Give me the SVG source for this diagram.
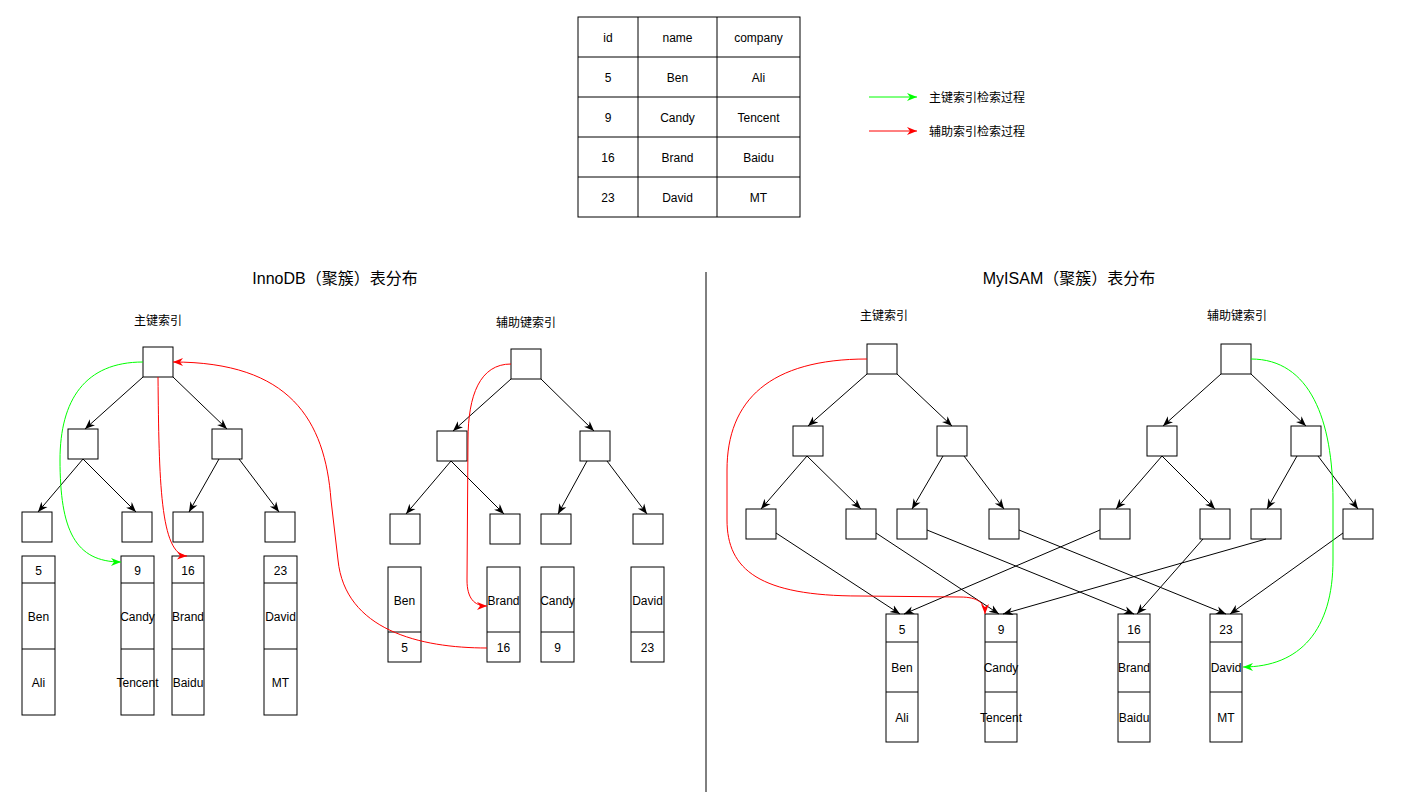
<svg xmlns="http://www.w3.org/2000/svg" width="1402" height="799" viewBox="0 0 1402 799">
<style>
  .box{fill:#fff;stroke:#000;stroke-width:1}
  .t{font-family:"Liberation Sans","Noto Sans CJK SC",sans-serif;font-size:12px;fill:#000;text-anchor:middle;dominant-baseline:central;transform:translateY(1px)}
  .title{font-family:"Liberation Sans","Noto Sans CJK SC",sans-serif;font-size:16px;fill:#000;text-anchor:middle;dominant-baseline:central;transform:translateY(1px)}
  .e{fill:none;stroke:#000;stroke-width:1;marker-end:url(#ak)}
  .g{fill:none;stroke:#00FF00;stroke-width:1;marker-end:url(#ag)}
  .r{fill:none;stroke:#FF0000;stroke-width:1;marker-end:url(#ar)}
</style>
<defs>
  <marker id="ak" viewBox="0 0 10 10" refX="10" refY="5" markerWidth="10" markerHeight="10" markerUnits="userSpaceOnUse" orient="auto"><path d="M0,1 L10,5 L0,9 L3,5 z" fill="#000"/></marker>
  <marker id="ag" viewBox="0 0 10 10" refX="10" refY="5" markerWidth="10" markerHeight="10" markerUnits="userSpaceOnUse" orient="auto"><path d="M0,1 L10,5 L0,9 L3,5 z" fill="#00FF00"/></marker>
  <marker id="ar" viewBox="0 0 10 10" refX="10" refY="5" markerWidth="10" markerHeight="10" markerUnits="userSpaceOnUse" orient="auto"><path d="M0,1 L10,5 L0,9 L3,5 z" fill="#FF0000"/></marker>
</defs>
<rect width="1402" height="799" fill="#fff"/>

<!-- Table -->
<g id="table">
  <rect class="box" x="578" y="17" width="222" height="200"/>
  <path d="M638,17 V217 M717,17 V217 M578,57 H800 M578,97 H800 M578,137 H800 M578,177 H800" stroke="#000" fill="none"/>
  <text class="t" x="608" y="37">id</text><text class="t" x="677.5" y="37">name</text><text class="t" x="758.5" y="37">company</text>
  <text class="t" x="608" y="77">5</text><text class="t" x="677.5" y="77">Ben</text><text class="t" x="758.5" y="77">Ali</text>
  <text class="t" x="608" y="117">9</text><text class="t" x="677.5" y="117">Candy</text><text class="t" x="758.5" y="117">Tencent</text>
  <text class="t" x="608" y="157">16</text><text class="t" x="677.5" y="157">Brand</text><text class="t" x="758.5" y="157">Baidu</text>
  <text class="t" x="608" y="197">23</text><text class="t" x="677.5" y="197">David</text><text class="t" x="758.5" y="197">MT</text>
</g>

<!-- Legend -->
<g id="legend">
  <path class="g" d="M869,97 L917,97"/>
  <text class="t" x="929" y="97" style="text-anchor:start">主键索引检索过程</text>
  <path class="r" d="M869,131 L917,131"/>
  <text class="t" x="929" y="131" style="text-anchor:start">辅助索引检索过程</text>
</g>

<!-- Titles and labels -->
<g id="labels">
  <text class="title" x="335" y="277">InnoDB（聚簇）表分布</text>
  <text class="title" x="1069" y="277">MyISAM（聚簇）表分布</text>
  <text class="t" x="158" y="320">主键索引</text>
  <text class="t" x="526" y="322">辅助键索引</text>
  <text class="t" x="884" y="315">主键索引</text>
  <text class="t" x="1237" y="315">辅助键索引</text>
</g>

<g id="divider"><path d="M706,272 V792" stroke="#000" stroke-width="1"/></g>

<!-- InnoDB primary tree -->
<g id="inno-pk-root"><rect class="box" x="143" y="347" width="30" height="30"/></g>
<g id="inno-pk-l2a"><rect class="box" x="68" y="429" width="30" height="30"/></g>
<g id="inno-pk-l2b"><rect class="box" x="212" y="429" width="30" height="30"/></g>
<g id="inno-pk-leaf1"><rect class="box" x="22" y="512" width="30" height="30"/></g>
<g id="inno-pk-leaf2"><rect class="box" x="122" y="512" width="30" height="30"/></g>
<g id="inno-pk-leaf3"><rect class="box" x="173" y="512" width="30" height="30"/></g>
<g id="inno-pk-leaf4"><rect class="box" x="265" y="512" width="30" height="30"/></g>

<!-- InnoDB primary data -->
<g id="inno-row5">
  <rect class="box" x="22" y="556" width="33" height="159"/>
  <path d="M22,583 H55 M22,649 H55" stroke="#000"/>
  <text class="t" x="38.5" y="570">5</text><text class="t" x="38.5" y="616">Ben</text><text class="t" x="38.5" y="682">Ali</text>
</g>
<g id="inno-row9">
  <rect class="box" x="121" y="556" width="33" height="159"/>
  <path d="M121,583 H154 M121,649 H154" stroke="#000"/>
  <text class="t" x="137.5" y="570">9</text><text class="t" x="137.5" y="616">Candy</text><text class="t" x="137.5" y="682">Tencent</text>
</g>
<g id="inno-row16">
  <rect class="box" x="172" y="556" width="32" height="159"/>
  <path d="M172,583 H204 M172,649 H204" stroke="#000"/>
  <text class="t" x="188" y="570">16</text><text class="t" x="188" y="616">Brand</text><text class="t" x="188" y="682">Baidu</text>
</g>
<g id="inno-row23">
  <rect class="box" x="264" y="556" width="33" height="159"/>
  <path d="M264,583 H297 M264,649 H297" stroke="#000"/>
  <text class="t" x="280.5" y="570">23</text><text class="t" x="280.5" y="616">David</text><text class="t" x="280.5" y="682">MT</text>
</g>

<!-- InnoDB secondary tree -->
<g id="inno-sk-root"><rect class="box" x="511" y="349" width="30" height="30"/></g>
<g id="inno-sk-l2a"><rect class="box" x="437" y="431" width="30" height="30"/></g>
<g id="inno-sk-l2b"><rect class="box" x="580" y="431" width="30" height="30"/></g>
<g id="inno-sk-leaf1"><rect class="box" x="390" y="514" width="30" height="30"/></g>
<g id="inno-sk-leaf2"><rect class="box" x="490" y="514" width="30" height="30"/></g>
<g id="inno-sk-leaf3"><rect class="box" x="541" y="514" width="30" height="30"/></g>
<g id="inno-sk-leaf4"><rect class="box" x="633" y="514" width="30" height="30"/></g>

<g id="inno-sk-ben">
  <rect class="box" x="388" y="567" width="33" height="95"/>
  <path d="M388,632 H421" stroke="#000"/>
  <text class="t" x="404.5" y="600">Ben</text><text class="t" x="404.5" y="647">5</text>
</g>
<g id="inno-sk-brand">
  <rect class="box" x="487" y="567" width="33" height="95"/>
  <path d="M487,632 H520" stroke="#000"/>
  <text class="t" x="503.5" y="600">Brand</text><text class="t" x="503.5" y="647">16</text>
</g>
<g id="inno-sk-candy">
  <rect class="box" x="541" y="567" width="33" height="95"/>
  <path d="M541,632 H574" stroke="#000"/>
  <text class="t" x="557.5" y="600">Candy</text><text class="t" x="557.5" y="647">9</text>
</g>
<g id="inno-sk-david">
  <rect class="box" x="631" y="567" width="33" height="95"/>
  <path d="M631,632 H664" stroke="#000"/>
  <text class="t" x="647.5" y="600">David</text><text class="t" x="647.5" y="647">23</text>
</g>

<!-- MyISAM primary tree -->
<g id="my-pk-root"><rect class="box" x="867" y="344" width="30" height="30"/></g>
<g id="my-pk-l2a"><rect class="box" x="793" y="426" width="30" height="30"/></g>
<g id="my-pk-l2b"><rect class="box" x="937" y="426" width="30" height="30"/></g>
<g id="my-pk-leaf1"><rect class="box" x="746" y="509" width="30" height="30"/></g>
<g id="my-pk-leaf2"><rect class="box" x="846" y="509" width="30" height="30"/></g>
<g id="my-pk-leaf3"><rect class="box" x="897" y="509" width="30" height="30"/></g>
<g id="my-pk-leaf4"><rect class="box" x="989" y="509" width="30" height="30"/></g>

<!-- MyISAM secondary tree -->
<g id="my-sk-root"><rect class="box" x="1221" y="344" width="30" height="30"/></g>
<g id="my-sk-l2a"><rect class="box" x="1147" y="426" width="30" height="30"/></g>
<g id="my-sk-l2b"><rect class="box" x="1291" y="426" width="30" height="30"/></g>
<g id="my-sk-leaf1"><rect class="box" x="1100" y="509" width="30" height="30"/></g>
<g id="my-sk-leaf2"><rect class="box" x="1200" y="509" width="30" height="30"/></g>
<g id="my-sk-leaf3"><rect class="box" x="1251" y="509" width="30" height="30"/></g>
<g id="my-sk-leaf4"><rect class="box" x="1343" y="509" width="30" height="30"/></g>

<!-- MyISAM data -->
<g id="my-row5">
  <rect class="box" x="886" y="614" width="32" height="128"/>
  <path d="M886,642 H918 M886,692 H918" stroke="#000"/>
  <text class="t" x="902" y="629">5</text><text class="t" x="902" y="667">Ben</text><text class="t" x="902" y="717">Ali</text>
</g>
<g id="my-row9">
  <rect class="box" x="985" y="614" width="32" height="128"/>
  <path d="M985,642 H1017 M985,692 H1017" stroke="#000"/>
  <text class="t" x="1001" y="629">9</text><text class="t" x="1001" y="667">Candy</text><text class="t" x="1001" y="717">Tencent</text>
</g>
<g id="my-row16">
  <rect class="box" x="1118" y="614" width="32" height="128"/>
  <path d="M1118,642 H1150 M1118,692 H1150" stroke="#000"/>
  <text class="t" x="1134" y="629">16</text><text class="t" x="1134" y="667">Brand</text><text class="t" x="1134" y="717">Baidu</text>
</g>
<g id="my-row23">
  <rect class="box" x="1210" y="614" width="32" height="128"/>
  <path d="M1210,642 H1242 M1210,692 H1242" stroke="#000"/>
  <text class="t" x="1226" y="629">23</text><text class="t" x="1226" y="667">David</text><text class="t" x="1226" y="717">MT</text>
</g>

<!-- Connectors -->
<g id="connectors">
  <!-- InnoDB primary -->
  <path class="e" d="M143,377 L85,429"/>
  <path class="e" d="M173,377 L227,429"/>
  <path class="e" d="M83,459 L38,512"/>
  <path class="e" d="M83,459 L136,512"/>
  <path class="e" d="M219,459 L189,512"/>
  <path class="e" d="M239,459 L279,512"/>
  <!-- InnoDB secondary -->
  <path class="e" d="M511,379 L453,431"/>
  <path class="e" d="M541,379 L594,431"/>
  <path class="e" d="M451,461 L406,514"/>
  <path class="e" d="M451,461 L504,514"/>
  <path class="e" d="M587,461 L558,514"/>
  <path class="e" d="M607,461 L647,514"/>
  <!-- MyISAM primary -->
  <path class="e" d="M867,374 L808,426"/>
  <path class="e" d="M897,374 L952,426"/>
  <path class="e" d="M807,456 L761,509"/>
  <path class="e" d="M807,456 L861,509"/>
  <path class="e" d="M943,456 L912,509"/>
  <path class="e" d="M964,456 L1004,509"/>
  <!-- MyISAM secondary -->
  <path class="e" d="M1221,374 L1163,426"/>
  <path class="e" d="M1251,374 L1306,426"/>
  <path class="e" d="M1162,456 L1116,509"/>
  <path class="e" d="M1162,456 L1215,509"/>
  <path class="e" d="M1297,456 L1267,509"/>
  <path class="e" d="M1318,456 L1358,509"/>
  <!-- MyISAM leaf to data -->
  <path class="e" d="M776,533 L900,614"/>
  <path class="e" d="M876,533 L999,614"/>
  <path class="e" d="M927,530 L1134,614"/>
  <path class="e" d="M1019,530 L1226,614"/>
  <path class="e" d="M1100,530 L904,614"/>
  <path class="e" d="M1203,539 L1137,614"/>
  <path class="e" d="M1266,539 L1003,614"/>
  <path class="e" d="M1343,533 L1230,614"/>
  <!-- search paths -->
  <path class="g" d="M143,362 C85,362 60,400 60,460 C60,530 75,562 121,562"/>
  <path class="r" d="M158,377 C159,480 160,555 187,556"/>
  <path class="r" d="M487,648 C420,648 345,630 338,560 L331,500 C325,420 290,362 173,362"/>
  <path class="r" d="M511,364 C480,364 468,395 468,440 L467,580 C467,598 474,606 487,606"/>
  <path class="r" d="M867,359 C770,359 727,400 727,470 L727,520 C727,570 760,596 860,596 L960,597 C978,597 985,603 985,614"/>
  <path class="g" d="M1251,359 C1310,359 1333,420 1333,500 L1333,560 C1333,630 1300,667 1243,667"/>
</g>
</svg>
